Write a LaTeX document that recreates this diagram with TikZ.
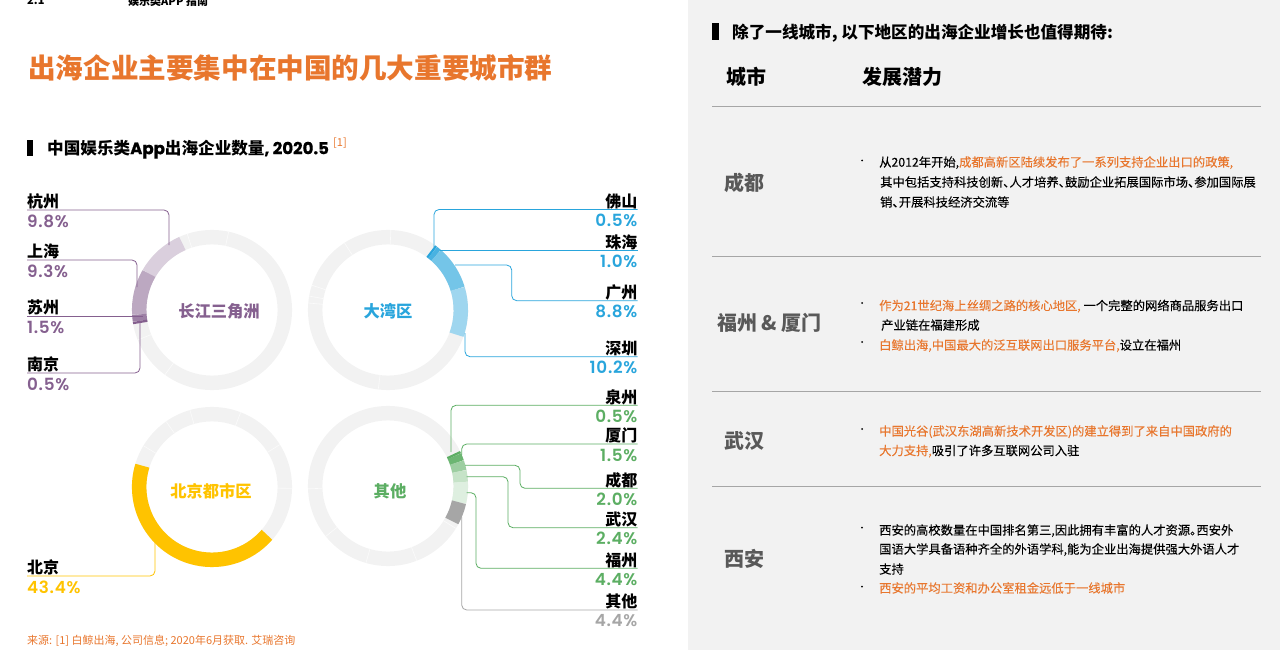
\documentclass[tikz,border=0pt]{standalone}
\usepackage{fontspec}
\setmainfont{Noto Sans CJK SC}
\newfontfamily\pctfont{Poppins SemiBold}[LetterSpace=4]
\newfontfamily\latinbold{Poppins}[FakeBold=0.6]
\newfontfamily\bodyfont{Noto Sans CJK SC}[FakeBold=0.1]
\usetikzlibrary{positioning}
\definecolor{titleOrange}{HTML}{E8762D}
\definecolor{panelGray}{HTML}{F2F2F2}
\definecolor{ringGray}{HTML}{F2F2F2}
\definecolor{nameGray}{HTML}{595959}
\definecolor{yrdText}{HTML}{85608F}
\definecolor{bayText}{HTML}{29A5DC}
\definecolor{bjText}{HTML}{FFC300}
\definecolor{otherText}{HTML}{5CAE63}
\definecolor{restText}{HTML}{A6A6A6}
\newcommand{\hot}[1]{\textcolor{titleOrange}{#1}}
\newcommand{\shortdun}{、\kern-6pt}
\newcommand{\shortju}{。\kern-6pt}
\tikzset{
    ring/.pic={
		\draw[ringGray, line width=14.5pt] (0,0) circle (72.8pt);
	},
	seg/.style={line width=14.5pt},
	seam/.style={line width=0.6pt, color=white!70!ringGray},
	lead/.style={line width=0.8pt, rounded corners=5pt},
	citylabel/.style={inner sep=0pt, text height=13pt, text depth=2pt, font=\fontsize{16}{16}\selectfont\bfseries},
	pctlabel/.style={inner sep=0pt, font=\fontsize{16.8}{16}\selectfont\pctfont},
	ringname/.style={inner sep=0pt, font=\fontsize{16.3}{18}\selectfont\bfseries},
	rowname/.style={inner sep=0pt, text=nameGray, font=\fontsize{20}{22}\selectfont\bfseries},
	headname/.style={inner sep=0pt, font=\fontsize{20}{22}\selectfont\bfseries},
	subhead/.style={inner sep=0pt, anchor=west, text height=14.4pt, text depth=2pt, font=\fontsize{16.6}{18}\selectfont\bfseries},
	bodyline/.style={inner sep=0pt, anchor=west, text height=11.4pt, text depth=2pt, font=\fontsize{12.3}{14}\selectfont\bodyfont},
	dotmark/.style={circle, fill=black, inner sep=0pt, minimum size=2pt},
	rowrule/.style={line width=1pt, color=gray!70}
}
\begin{document}
\begin{tikzpicture}[x=1pt,y=1pt]
	\useasboundingbox (0,0) rectangle (1280,-650);
	\clip (0,0) rectangle (1280,-650);
	\fill[panelGray] (688,0) rectangle (1280,-650);
	% cut off page head
	\node[inner sep=0pt, anchor=west, font=\fontsize{11}{12}\selectfont\bfseries] (pagenum) at (27,-1) {2.1};
	\node[inner sep=0pt, anchor=west, font=\fontsize{11}{12}\selectfont\bfseries] (pagehead) at (128,-1) {娱乐类APP 指南};
	% left side
	\node[inner sep=0pt, anchor=west, text=titleOrange, font=\fontsize{27.6}{30}\selectfont\bfseries] (title) at (28,-68) {出海企业主要集中在中国的几大重要城市群};
	\fill (27,-140) rectangle (33,-156);
	\node[subhead] (chartHead) at (47,-148) {中国娱乐类{\latinbold App}出海企业数量{\latinbold , 2020.5}};
	\node[inner sep=0pt, anchor=west, text=titleOrange, font=\fontsize{11}{12}\selectfont] (chartRef) at (333,-143) {[1]};
	% rings
	\coordinate (yrd) at (212,-310);
	\coordinate (bay) at (388,-310);
	\coordinate (bj) at (212,-487);
	\coordinate (other) at (388,-486);
	\pic at (yrd) {ring};
	\pic at (bay) {ring};
	\pic at (bj) {ring};
	\pic at (other) {ring};
	\foreach \c/\ang in {yrd/108, yrd/78, yrd/202, yrd/234, bay/88, bay/123, bay/162, bay/170, bay/175, bay/263,
		bj/106, bj/125, bj/149, bj/69, bj/32, bj/-1, other/182, other/219, other/254, other/-69, other/-32}
		\draw[seam] (\c) ++(\ang:65.5) -- ++(\ang:14.5);
	\foreach \c/\from/\to/\col in {
		yrd/114/150/yrdText!30, yrd/150/183.5/yrdText!55, yrd/183.5/188.5/yrdText!80, yrd/188.5/190.3/yrdText,
		bay/54/52.2/bayText, bay/52.2/48.6/bayText!85, bay/48.6/16.9/bayText!65, bay/16.9/-19.8/bayText!45,
		bj/163/319/bjText,
		other/26/24.2/otherText, other/24.2/18.8/otherText!90, other/18.8/11.6/otherText!60, other/11.6/3/otherText!35, other/3/-12.9/otherText!20, other/-12.9/-28.7/restText}
		\draw[seg, \col] (\c) ++(\from:72.8) arc[start angle=\from, end angle=\to, radius=72.8];
	\node[ringname, text=yrdText] (yrdName) at (219,-311) {长江三角洲};
	\node[ringname, text=bayText] (bayName) at (388,-311) {大湾区};
	\node[ringname, text=bjText] (bjName) at (211,-491) {北京都市区};
	\node[ringname, text=otherText] (otherName) at (390,-491) {其他};
	% labels on the left
	\foreach \nm/\city/\val/\ly/\col in {
		hz/杭州/9.8/210/yrdText, sh/上海/9.3/260/yrdText, sz/苏州/1.5/316/yrdText, nj/南京/0.5/373/yrdText, bjc/北京/43.4/576/bjText}{
		\node[citylabel, anchor=south west] (\nm) at (27,-\ly) {\city};
		\node[pctlabel, anchor=west, text=\col] (\nm pct) at (27,-\ly-11) {\val\%};
	}
	% labels on the right
	\foreach \nm/\city/\val/\ly/\col in {
		fs/佛山/0.5/209.5/bayText, zh/珠海/1.0/250.7/bayText, gz/广州/8.8/300.7/bayText, sze/深圳/10.2/356.7/bayText,
		qz/泉州/0.5/405.3/otherText, xm/厦门/1.5/444/otherText, cd/成都/2.0/488.3/otherText, wh/武汉/2.4/527.7/otherText, fz/福州/4.4/568.3/otherText, qt/其他/4.4/610/restText}{
		\node[citylabel, anchor=south east] (\nm) at (637.5,-\ly) {\city};
		\node[pctlabel, anchor=east, text=\col] (\nm pct) at (637.5,-\ly-11) {\val\%};
	}
	% free ends on the rings
	\foreach \nm/\x/\y in {hzEnd/169/245, shEnd/137/287, szEnd/143/316, njEnd/140/323, bjcEnd/155/542,
		fsEnd/434/247, zhEnd/440/250.7, gzBend/511.7/265, gzEnd/455/265, szeEnd/465/333,
		qzEnd/451/452, xmEnd/461.7/455, cdBend/520/465.3, cdEnd/465/465.3, whBend/508/476.7, whEnd/466.7/476.7,
		fzBend/476/492.7, fzEnd/466.7/492.7, qtEnd/461.7/517}
		\coordinate (\nm) at (\x,-\y);
	\draw[lead, yrdText] (hz.south west) -| (hzEnd);
	\draw[lead, yrdText] (sh.south west) -| (shEnd);
	\draw[lead, yrdText] (sz.south west) -- (szEnd);
	\draw[lead, yrdText] (nj.south west) -| (njEnd);
	\draw[lead, bjText] (bjc.south west) -| (bjcEnd);
	\draw[lead, bayText] (fs.south east) -| (fsEnd);
	\draw[lead, bayText] (zh.south east) -- (zhEnd);
	\draw[lead, bayText] (gz.south east) -| (gzBend) -- (gzEnd);
	\draw[lead, bayText] (sze.south east) -| (szeEnd);
	\draw[lead, otherText] (qz.south east) -| (qzEnd);
	\draw[lead, otherText] (xm.south east) -| (xmEnd);
	\draw[lead, otherText] (cd.south east) -| (cdBend) -- (cdEnd);
	\draw[lead, otherText] (wh.south east) -| (whBend) -- (whEnd);
	\draw[lead, otherText] (fz.south east) -| (fzBend) -- (fzEnd);
	\draw[lead, restText] (qt.south east) -| (qtEnd);
	\node[inner sep=0pt, anchor=west, text=titleOrange, font=\fontsize{11}{12}\selectfont] (source) at (27,-641) {来源: [1] 白鲸出海, 公司信息; 2020年6月获取. 艾瑞咨询};
	% right side
	\fill (712,-23) rectangle (719,-40);
	\node[subhead] (tableHead) at (732,-32) {除了一线城市, 以下地区的出海企业增长也值得期待:};
	\node[headname] (cityHead) at (746,-77) {城市};
	\node[headname] (potHead) at (902.5,-77) {发展潜力};
	\foreach \ry in {106.5,256,391.5,486}
		\draw[rowrule] (712,-\ry) -- (1261,-\ry);
	\node[rowname] (rowCd) at (744.5,-183) {成都};
	\node[rowname] (rowFx) at (769.5,-323) {福州 \& 厦门};
	\node[rowname] (rowWh) at (744.5,-441) {武汉};
	\node[rowname] (rowXa) at (744.5,-559) {西安};
	\foreach \by in {160.5,303,342,429,527.7,586.7}
		\node[dotmark] at (862,-\by) {};
	\node[bodyline] (cdA) at (879,-162) {从2012年开始,\hot{成都高新区陆续发布了一系列支持企业出口的政策,}};
	\node[bodyline] (cdB) at (880,-182) {其中包括支持科技创新\shortdun 人才培养\shortdun 鼓励企业拓展国际市场\shortdun 参加国际展};
	\node[bodyline] (cdC) at (880,-202) {销\shortdun 开展科技经济交流等};
	\node[bodyline] (fxA) at (879,-305.5) {\hot{作为21世纪海上丝绸之路的核心地区,} 一个完整的网络商品服务出口};
	\node[bodyline] (fxB) at (881,-325) {产业链在福建形成};
	\node[bodyline] (fxC) at (879,-345) {\hot{白鲸出海,中国最大的泛互联网出口服务平台,}设立在福州};
	\node[bodyline] (whA) at (879,-431) {\hot{中国光谷(武汉东湖高新技术开发区)的建立得到了来自中国政府的}};
	\node[bodyline] (whB) at (879,-450.5) {\hot{大力支持,}吸引了许多互联网公司入驻};
	\node[bodyline] (xaA) at (879,-530) {西安的高校数量在中国排名第三,因此拥有丰富的人才资源\shortju 西安外};
	\node[bodyline] (xaB) at (879,-549) {国语大学具备语种齐全的外语学科,能为企业出海提供强大外语人才};
	\node[bodyline] (xaC) at (879,-569) {支持};
	\node[bodyline] (xaD) at (879,-588) {\hot{西安的平均工资和办公室租金远低于一线城市}};
\end{tikzpicture}
\end{document}
